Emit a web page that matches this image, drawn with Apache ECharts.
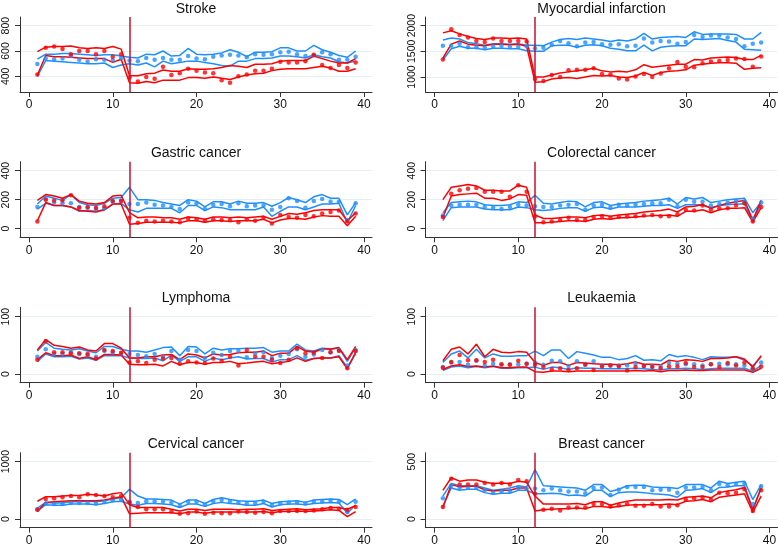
<!DOCTYPE html>
<html><head><meta charset="utf-8">
<script src="https://cdn.jsdelivr.net/npm/echarts@6/dist/echarts.min.js"></script>
<style>html,body{margin:0;padding:0;background:#fff}#c{width:778px;height:545px}</style>
</head><body><div id="c"></div>
<script>
// time index (categories)
const t = [1,2,3,4,5,6,7,8,9,10,11,12,13,14,15,16,17,18,19,20,21,22,23,24,25,26,27,28,29,30,31,32,33,34,35,36,37,38,39];
const xTicks = [0,10,20,30,40];

// Stroke
const strokeBlueMid = [497,540,535,540,560,530,518,535,530,528,545,525,520,545,530,545,530,530,560,540,535,555,565,570,565,550,575,570,575,590,595,575,560,565,590,575,530,530,555];
const strokeBlueHi  = [535,575,575,580,580,575,570,565,570,570,560,550,545,575,570,600,560,565,620,575,570,575,585,610,590,555,590,590,595,625,625,600,600,645,610,590,565,550,600];
const strokeBlueLo  = [400,525,520,515,510,505,500,500,505,470,490,500,490,505,475,520,500,510,520,520,510,500,485,480,520,520,540,540,545,560,560,555,545,570,555,545,515,505,520];
const strokeRedMid  = [415,625,635,615,575,600,600,575,600,555,575,390,360,395,380,475,410,425,460,445,430,425,370,350,400,415,445,445,460,515,510,510,520,570,490,465,490,465,510];
const strokeRedHi   = [595,630,635,635,640,625,620,625,620,635,615,405,405,420,425,450,440,440,460,455,455,460,470,485,480,470,495,495,500,520,525,525,525,560,540,520,505,505,540];
const strokeRedLo   = [410,565,555,555,550,545,540,540,540,510,535,350,345,360,350,370,370,370,390,390,385,395,385,375,395,410,420,425,445,455,460,460,460,470,480,465,440,440,460];
const strokeTicks = [400,600,800];

// Myocardial infarction
const miBlueMid = [1610,1610,1650,1580,1580,1570,1600,1610,1590,1590,1600,1560,1570,1630,1700,1660,1600,1670,1680,1640,1630,1640,1600,1610,1750,1670,1700,1690,1650,1680,1820,1780,1810,1810,1770,1740,1600,1650,1670];
const miBlueHi  = [1720,1760,1740,1670,1650,1620,1650,1650,1640,1650,1620,1620,1610,1680,1730,1750,1730,1760,1740,1720,1690,1720,1700,1740,1850,1740,1770,1780,1790,1770,1880,1830,1840,1840,1840,1830,1740,1740,1870];
const miBlueLo  = [1330,1550,1600,1560,1560,1530,1560,1560,1550,1550,1510,1500,1500,1610,1620,1620,1580,1620,1630,1610,1560,1540,1510,1510,1620,1510,1580,1600,1610,1610,1740,1730,1740,1750,1710,1680,1540,1530,1520];
const miRedMid  = [1340,1930,1820,1770,1700,1680,1750,1700,1700,1700,1690,960,920,1040,1000,1130,1140,1140,1170,1060,1050,970,950,1010,1060,1000,1070,1170,1290,1200,1190,1270,1300,1310,1330,1360,1350,1200,1400];
const miRedHi   = [1860,1900,1840,1790,1750,1730,1760,1760,1750,1760,1740,1000,1000,1040,1080,1100,1120,1140,1170,1120,1100,1110,1100,1140,1240,1190,1210,1230,1250,1250,1340,1330,1370,1380,1390,1380,1340,1340,1420];
const miRedLo   = [1370,1640,1700,1640,1620,1610,1640,1640,1630,1640,1600,900,910,960,980,990,970,1000,1030,1020,1030,1000,990,1020,1090,1030,1090,1110,1120,1140,1230,1250,1270,1280,1280,1270,1150,1170,1180];
const miTicks = [1000,1500,2000];

// Gastric cancer
const gasBlueMid = [150,205,180,175,175,150,145,135,140,185,195,170,170,180,165,160,150,135,180,175,135,165,170,155,175,155,160,160,130,150,210,190,145,190,205,185,185,60,175];
const gasBlueHi  = [170,225,210,195,235,180,165,160,175,210,215,285,200,200,195,180,170,160,200,190,150,185,185,170,190,175,175,180,155,180,215,200,180,220,235,210,210,95,180];
const gasBlueLo  = [135,175,160,160,150,120,125,120,130,170,175,130,115,140,140,140,140,110,160,160,125,150,145,130,130,130,130,150,85,120,150,150,130,150,170,170,175,40,160];
const gasRedMid  = [50,200,195,195,230,145,150,145,155,190,190,75,40,55,50,55,50,45,70,65,55,65,60,60,45,65,55,75,35,95,80,75,95,85,105,115,125,50,105];
const gasRedHi   = [195,235,225,210,235,190,175,170,180,225,230,110,75,80,80,75,75,65,80,75,65,80,80,75,80,75,80,85,65,85,105,100,110,125,130,130,130,55,110];
const gasRedLo   = [55,180,160,160,150,125,120,115,130,170,170,30,35,45,45,45,45,40,55,55,45,55,55,50,55,55,55,65,40,60,70,70,65,80,90,85,85,20,85];
const gasTicks = [0,200,400];

// Colorectal cancer
const colBlueMid = [90,160,165,165,165,150,145,135,150,165,160,155,150,150,160,165,170,130,160,165,145,165,160,165,170,175,175,200,155,200,185,185,160,170,180,190,185,70,180];
const colBlueHi  = [110,180,185,190,185,165,160,160,165,185,180,230,175,170,180,190,185,150,180,185,160,170,175,180,190,195,200,210,170,215,205,215,180,190,200,205,210,110,185];
const colBlueLo  = [55,145,150,150,150,135,130,130,130,150,145,130,125,130,140,145,145,120,145,150,135,150,150,150,155,160,160,165,140,165,165,165,145,160,165,170,170,55,170];
const colRedMid  = [80,240,265,275,280,255,255,255,220,300,255,85,45,50,60,75,60,60,80,85,75,80,85,85,90,95,85,85,100,130,125,160,130,140,140,160,175,50,150];
const colRedHi   = [200,285,295,305,295,265,265,260,260,300,285,95,70,70,75,80,80,75,90,95,85,95,100,105,115,120,125,135,115,150,155,165,140,160,175,185,195,60,195];
const colRedLo   = [75,225,235,240,245,210,210,195,205,235,230,40,40,45,50,55,55,50,65,70,65,75,75,80,85,90,90,95,85,120,120,130,110,130,140,140,145,45,145];
const colTicks = [0,200,400];

// Lymphoma
const lymBlueMid = [30,43,35,35,38,35,33,30,40,38,36,35,33,31,35,30,40,25,42,40,28,37,33,40,40,29,36,38,28,32,35,43,30,34,42,38,42,15,42];
const lymBlueHi  = [40,55,45,43,42,44,40,37,48,48,43,40,40,38,42,46,47,32,48,47,35,45,42,44,44,45,45,46,38,40,40,52,42,40,45,44,45,22,46];
const lymBlueLo  = [22,35,30,30,31,26,28,24,32,32,32,28,27,27,28,23,33,22,30,30,22,28,25,28,30,26,27,27,21,25,25,32,24,27,28,28,32,12,35];
const lymRedMid  = [25,57,38,38,36,36,35,27,42,40,37,20,22,19,25,27,28,18,22,20,19,27,23,30,15,42,30,30,25,19,25,45,36,37,28,38,40,10,40];
const lymRedHi   = [42,60,50,48,45,47,42,40,53,53,45,28,28,30,30,33,34,25,35,33,28,35,33,34,37,38,38,40,32,36,36,48,40,38,44,43,46,25,48];
const lymRedLo   = [25,37,32,32,33,27,30,25,34,34,33,17,16,16,17,14,22,16,20,20,17,20,20,22,18,19,21,22,18,20,22,28,22,27,28,28,30,9,38];
const lymTicks = [0,100];

// Leukaemia
const leuBlueMid = [12,20,21,16,23,15,18,16,17,17,18,20,16,23,22,14,22,17,22,15,15,15,15,18,14,14,13,19,18,17,17,15,17,18,17,17,15,8,20];
const leuBlueHi  = [20,35,40,28,43,28,35,31,31,32,32,40,32,42,42,27,39,36,33,29,29,25,27,32,24,25,23,34,30,32,29,25,30,29,29,30,24,14,30];
const leuBlueLo  = [6,12,14,11,13,11,13,10,10,11,11,12,8,12,11,8,11,10,10,9,9,9,9,10,9,8,7,9,9,10,9,8,9,10,10,10,10,5,15];
const leuRedMid  = [11,21,33,24,24,21,25,17,16,23,18,16,12,8,10,7,10,16,7,13,15,13,6,12,14,12,10,13,13,19,12,12,17,12,19,15,20,10,13];
const leuRedHi   = [23,43,47,35,52,30,43,38,37,39,38,20,15,20,20,15,20,19,18,17,17,16,18,21,17,17,16,24,22,25,24,22,27,27,28,30,26,12,32];
const leuRedLo   = [8,14,16,13,14,12,14,11,11,12,12,4,3,5,5,4,5,5,5,5,5,5,5,6,5,6,4,6,6,7,6,6,7,7,7,7,7,3,10];
const leuTicks = [0,100];

// Cervical cancer
const cerBlueMid = [170,270,260,260,280,280,280,270,295,325,340,300,280,310,310,300,290,230,300,300,250,310,330,310,290,270,275,300,240,270,285,290,270,300,310,320,300,120,300];
const cerBlueHi  = [190,290,280,280,300,300,310,300,320,350,370,520,400,350,350,340,330,260,330,330,270,340,370,340,320,310,310,330,270,300,310,320,290,330,340,350,340,250,350];
const cerBlueLo  = [140,250,240,240,260,260,260,250,270,300,310,260,240,270,270,260,250,200,260,260,220,270,290,270,260,240,240,270,210,250,260,260,250,270,280,290,280,100,250];
const cerRedMid  = [160,350,360,380,400,380,430,420,400,380,400,290,210,170,170,170,130,90,100,130,90,110,100,100,130,120,110,120,100,140,140,140,140,150,170,190,180,160,210];
const cerRedHi   = [310,390,390,400,410,410,430,420,400,440,460,250,200,200,200,200,170,140,170,170,150,170,170,170,160,170,170,180,150,160,170,180,160,170,180,200,200,170,230];
const cerRedLo   = [130,290,300,310,320,320,320,320,330,360,390,90,100,110,110,110,110,90,120,120,100,120,120,120,120,120,120,130,110,130,130,140,130,140,150,160,150,40,130];
const cerTicks = [0,1000];

// Breast cancer
const brBlueMid = [180,290,270,275,275,250,230,240,245,270,265,265,250,265,250,240,240,225,270,275,210,255,280,280,280,250,255,255,230,275,275,280,250,305,295,305,310,130,285];
const brBlueHi  = [200,310,290,290,290,270,250,260,270,290,280,430,290,285,280,275,270,250,300,300,240,260,290,295,295,280,275,275,265,300,300,300,270,330,310,320,330,170,300];
const brBlueLo  = [110,270,250,260,260,230,215,225,225,250,250,220,220,225,220,205,210,200,250,250,195,230,235,235,230,220,215,210,190,250,255,265,230,275,280,290,290,90,270];
const brRedMid  = [105,350,300,300,300,315,300,315,300,340,330,220,80,90,75,100,100,100,130,130,110,120,130,115,115,130,110,110,120,170,180,185,170,230,225,230,260,70,250];
const brRedHi   = [250,360,330,340,340,320,310,315,310,330,320,200,130,130,130,130,135,125,150,150,120,140,155,165,165,165,165,170,165,190,195,200,185,230,245,255,275,80,270];
const brRedLo   = [100,300,280,285,285,255,245,250,250,270,270,70,80,85,90,90,95,90,110,110,100,110,120,125,125,125,125,130,125,155,160,170,150,190,200,210,220,60,200];
const brTicks = [0,500];

const titles = ['Stroke','Myocardial infarction','Gastric cancer','Colorectal cancer','Lymphoma','Leukaemia','Cervical cancer','Breast cancer'];
const policyTime = 12;

const panels = [
  {bm:strokeBlueMid,bh:strokeBlueHi,bl:strokeBlueLo,rm:strokeRedMid,rh:strokeRedHi,rl:strokeRedLo,ticks:strokeTicks,min:276.3,max:868.4},
  {bm:miBlueMid,bh:miBlueHi,bl:miBlueLo,rm:miRedMid,rh:miRedHi,rl:miRedLo,ticks:miTicks,min:708,max:2169},
  {bm:gasBlueMid,bh:gasBlueHi,bl:gasBlueLo,rm:gasRedMid,rh:gasRedHi,rl:gasRedLo,ticks:gasTicks,min:-59.5,max:461.9},
  {bm:colBlueMid,bh:colBlueHi,bl:colBlueLo,rm:colRedMid,rh:colRedHi,rl:colRedLo,ticks:colTicks,min:-59.5,max:461.9},
  {bm:lymBlueMid,bh:lymBlueHi,bl:lymBlueLo,rm:lymRedMid,rh:lymRedHi,rl:lymRedLo,ticks:lymTicks,min:-15.2,max:116.3},
  {bm:leuBlueMid,bh:leuBlueHi,bl:leuBlueLo,rm:leuRedMid,rh:leuRedHi,rl:leuRedLo,ticks:leuTicks,min:-15.2,max:116.3},
  {bm:cerBlueMid,bh:cerBlueHi,bl:cerBlueLo,rm:cerRedMid,rh:cerRedHi,rl:cerRedLo,ticks:cerTicks,min:-151.7,max:1156.5},
  {bm:brBlueMid,bh:brBlueHi,bl:brBlueLo,rm:brRedMid,rh:brRedHi,rl:brRedLo,ticks:brTicks,min:-75.9,max:578.3}
];

const BLUE = '#1e8fff', RED = '#ff0000', VLINE = '#c8102e', AXIS = '#333', GRIDC = '#e4eef3';
const FONT = 'Liberation Sans, Arial, Helvetica, sans-serif';
const colLeft = [20, 425.5];
const rowTop = [17, 161.7, 307.3, 452.7];
const rowH = [75, 75.6, 75.4, 75];
const gridW = 352;

const pairs = arr => arr.map((v, i) => [t[i], v]);
const plain = v => String(v);

const option = {
  animation: false,
  backgroundColor: '#fff',
  title: [], grid: [], xAxis: [], yAxis: [], series: []
};

panels.forEach((p, i) => {
  const col = i % 2, row = Math.floor(i / 2);
  const left = colLeft[col], top = rowTop[row], h = rowH[row];
  option.grid.push({left: left, top: top, width: gridW, height: h, outerBoundsMode: 'none', containLabel: false});
  option.title.push({
    text: titles[i], left: left + gridW / 2, top: top - 16.5 + (row === 0 ? 1.5 : 0.5), textAlign: 'center', textVerticalAlign: 'top', padding: 0,
    textStyle: {fontFamily: FONT, fontSize: 14, fontWeight: 'normal', color: '#111', lineHeight: 14}
  });
  option.xAxis.push({
    type: 'value', gridIndex: i, min: -1.074, max: 40.95,
    axisLine: {show: true, onZero: false, lineStyle: {color: AXIS, width: 1}},
    axisTick: {show: true, length: 5, customValues: xTicks, lineStyle: {color: AXIS, width: 1}},
    axisLabel: {show: true, customValues: xTicks, formatter: plain, hideOverlap: false, fontFamily: FONT, fontSize: 12, color: '#111', margin: 7},
    splitLine: {show: false}
  });
  option.yAxis.push({
    type: 'value', gridIndex: i, min: p.min, max: p.max,
    axisLine: {show: true, onZero: false, lineStyle: {color: AXIS, width: 1}},
    axisTick: {show: true, length: 5, customValues: p.ticks, lineStyle: {color: AXIS, width: 1}},
    axisLabel: {show: true, customValues: p.ticks, formatter: plain, hideOverlap: false, showMinLabel: true, showMaxLabel: true,
      rotate: 90, fontFamily: FONT, fontSize: 10.5, color: '#111', margin: 8},
    splitLine: {show: true, lineStyle: {color: GRIDC, width: 1}}
  });
  const lineS = (data, color) => ({
    type: 'line', xAxisIndex: i, yAxisIndex: i, data: pairs(data), showSymbol: false, symbol: 'none',
    lineStyle: {color: color, width: 1.5}, itemStyle: {color: color}, silent: true, z: 3
  });
  const dotS = (data, color) => ({
    type: 'scatter', xAxisIndex: i, yAxisIndex: i, data: pairs(data), symbol: 'circle', symbolSize: 4.5,
    itemStyle: {color: color}, silent: true, z: 3
  });
  option.series.push(dotS(p.bm, BLUE), lineS(p.bh, BLUE), lineS(p.bl, BLUE));
  option.series.push(dotS(p.rm, RED), lineS(p.rh, RED), lineS(p.rl, RED));
  option.series[option.series.length - 1].markLine = {
    silent: true, symbol: ['none', 'none'], label: {show: false}, animation: false,
    lineStyle: {color: VLINE, width: 1.5, type: 'solid'},
    data: [{xAxis: policyTime}]
  };
});

const chart = echarts.init(document.getElementById('c'), null, {renderer: 'canvas'});
chart.setOption(option);
</script>
</body></html>
